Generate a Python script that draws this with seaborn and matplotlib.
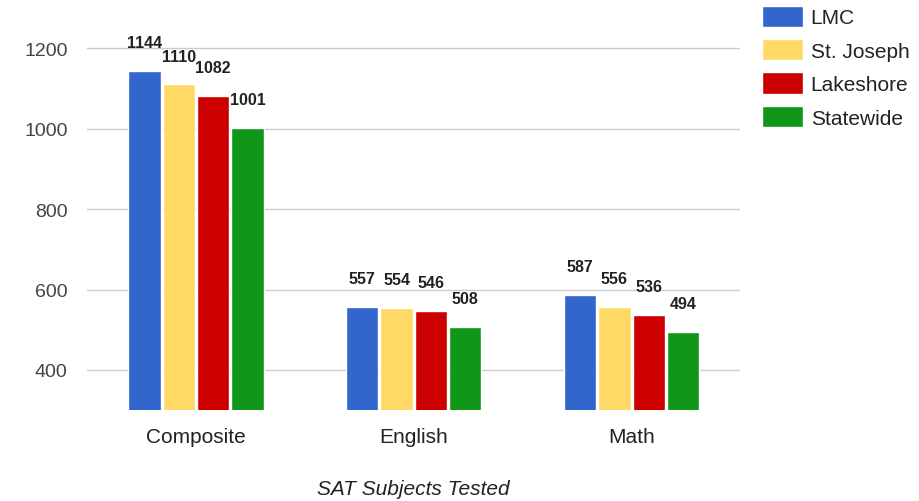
import matplotlib
matplotlib.use("Agg")
import matplotlib.pyplot as plt
import seaborn as sns
import pandas as pd

# Chart data
subjects = ["Composite", "English", "Math"]
schools = ["LMC", "St. Joseph", "Lakeshore", "Statewide"]
lmc = [1144, 557, 587]
st_joseph = [1110, 554, 556]
lakeshore = [1082, 546, 536]
statewide = [1001, 508, 494]
colors = ["#3366cc", "#ffd966", "#cc0000", "#109618"]

rows = []
for school, vals in zip(schools, [lmc, st_joseph, lakeshore, statewide]):
    for subj, v in zip(subjects, vals):
        rows.append({"Subject": subj, "School": school, "Score": v})
df = pd.DataFrame(rows)

sns.set_theme(style="white")
plt.rcParams["font.family"] = ["Liberation Sans", "DejaVu Sans"]

fig = plt.figure(figsize=(9.19, 5.02), dpi=100)
ax = fig.add_axes([0.0947, 0.181, 0.711, 0.801])

sns.barplot(data=df, x="Subject", y="Score", hue="School", palette=colors,
            order=subjects, hue_order=schools, width=0.63, gap=0.06,
            saturation=1, legend=True, ax=ax)

ax.set_ylim(300, 1300)
ax.set_yticks([400, 600, 800, 1000, 1200])
ax.yaxis.grid(True, color="#cccccc", linewidth=1)
ax.set_axisbelow(True)
for s in ax.spines.values():
    s.set_visible(False)
ax.tick_params(axis="y", labelsize=14, labelcolor="#444444", length=0, pad=14)
ax.tick_params(axis="x", labelsize=15, labelcolor="#222222", length=0, pad=12)
ax.set_ylabel("")
ax.set_xlabel("SAT Subjects Tested", fontsize=15, style="italic",
              color="#222222", labelpad=24)

for cont in ax.containers:
    ax.bar_label(cont, padding=15, fontsize=11.5, fontweight="bold", color="#222222")

handles, labels = ax.get_legend_handles_labels()
ax.legend_.remove()
fig.legend(handles, labels, loc="upper left", bbox_to_anchor=(0.809, 1.024),
           frameon=False, fontsize=15, handlelength=1.97, handleheight=1.2,
           handletextpad=0.35, labelspacing=0.56, labelcolor="#222222")

fig.savefig("out.png", dpi=100)
